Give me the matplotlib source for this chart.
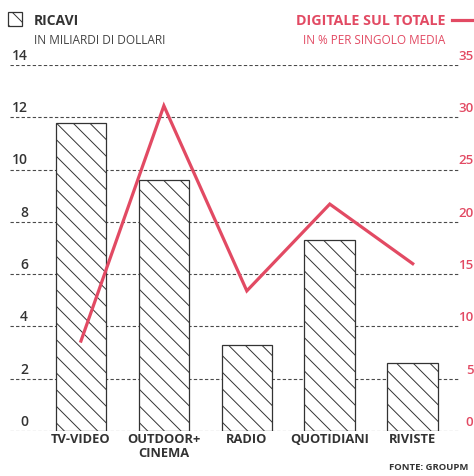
import matplotlib
matplotlib.use("Agg")
import matplotlib.pyplot as plt
from matplotlib.patches import Rectangle
from matplotlib.lines import Line2D
from matplotlib.transforms import blended_transform_factory

plt.rcParams["font.family"] = ["Open Sans", "DejaVu Sans"]
plt.rcParams["hatch.linewidth"] = 0.7

# data
categories = ["TV-VIDEO", "OUTDOOR+\nCINEMA", "RADIO", "QUOTIDIANI", "RIVISTE"]
ricavi = [11.8, 9.6, 3.3, 7.3, 2.6]           # miliardi di dollari
digitale_pct = [8.6, 31.1, 13.4, 21.7, 16.0]  # % digitale sul totale
left_ticks = [0, 2, 4, 6, 8, 10, 12, 14]
right_ticks = [0, 5, 10, 15, 20, 25, 30, 35]

RED = "#e24a63"
GRID = "#4a4a4a"
INK = "#333333"
W, H = 474, 477

fig = plt.figure(figsize=(W / 100, H / 100), dpi=100)
ax = fig.add_axes([10 / W, 1 - 432 / H, 450 / W, 366 / H])
ax2 = ax.twinx()

x = list(range(len(categories)))
ax.bar(x, ricavi, width=0.61, facecolor="white", edgecolor=INK,
       linewidth=0.9, hatch="\\\\", zorder=2)
ax.set_xlim(-0.855, 4.57)
ax.set_ylim(0, 14)
ax2.set_ylim(0, 35)
ax2.plot(x, digitale_pct, color=RED, linewidth=2.3, solid_joinstyle="miter",
         zorder=5)

for a in (ax, ax2):
    for s in a.spines.values():
        s.set_visible(False)
    a.set_xticks([])
    a.set_yticks([])

# dashed gridlines, labels sit on top of the lines
for v in left_ticks:
    ax.axhline(v, color=GRID, linewidth=0.8, linestyle=(0, (3, 2)), zorder=1)
tl = blended_transform_factory(ax.transAxes, ax.transData)
for v in left_ticks:
    ax.text(18 / 450, v + 0.12, str(v), transform=tl, ha="right", va="bottom",
            fontsize=10, color=INK, fontweight="semibold")
tr = blended_transform_factory(ax2.transAxes, ax2.transData)
for v in right_ticks:
    ax2.text(463.5 / 450, v + 0.3, str(v), transform=tr, ha="right", va="bottom",
             fontsize=9.5, color=RED, fontweight="semibold", clip_on=False)

# category labels
tc = blended_transform_factory(ax.transData, ax.transAxes)
for xi, lab in zip(x, categories):
    ax.text(xi, -0.004, lab, transform=tc, ha="center", va="top",
            fontsize=9.3, fontweight="bold", color=INK, linespacing=1.1)

# header: legend for bars
fig.patches.append(Rectangle((8 / W, 1 - 27 / H), 14 / W, 14 / H,
                             transform=fig.transFigure, facecolor="white",
                             edgecolor=INK, linewidth=0.9, hatch="\\\\"))
fig.text(34 / W, 1 - 21 / H, "RICAVI", ha="left", va="center",
         fontsize=10, fontweight="bold", color=INK)
fig.text(34 / W, 1 - 40 / H, "IN MILIARDI DI DOLLARI", ha="left", va="center",
         fontsize=8.6, fontweight="medium", color="#444444")

# header: legend for the line
fig.text(445 / W, 1 - 21 / H, "DIGITALE SUL TOTALE", ha="right", va="center",
         fontsize=10.3, fontweight="bold", color=RED)
fig.text(445 / W, 1 - 41 / H, "IN % PER SINGOLO MEDIA", ha="right", va="center",
         fontsize=8.5, color=RED)
fig.lines.append(Line2D([452 / W, 1.0], [1 - 21 / H, 1 - 21 / H],
                        transform=fig.transFigure, color=RED, linewidth=2.3))

fig.text(389 / W, 1 - 468 / H, "FONTE: GROUPM", ha="left", va="center",
         fontsize=6.8, fontweight="bold", color=INK)

fig.savefig("out.png", dpi=100)
